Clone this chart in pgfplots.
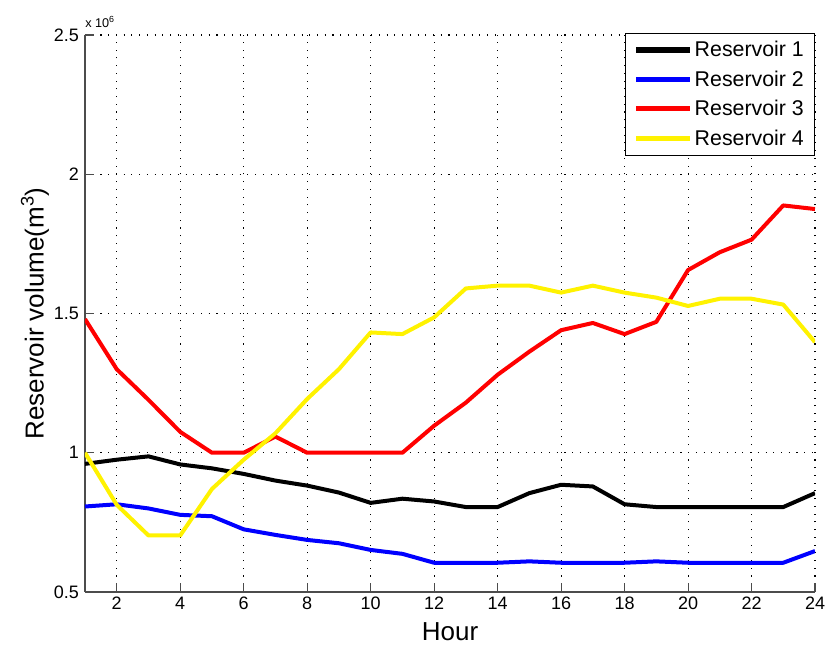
\documentclass[border=0pt]{standalone}
\usepackage{fontspec}
\setmainfont{Liberation Sans}
\usepackage{pgfplots}
\pgfplotsset{compat=1.18}

\pgfplotstableread{
h r1 r2 r3 r4
1 0.960 0.807 1.480 1.000
2 0.975 0.815 1.300 0.813
3 0.987 0.800 1.190 0.703
4 0.958 0.777 1.075 0.703
5 0.944 0.772 1.000 0.870
6 0.924 0.725 1.000 0.975
7 0.900 0.705 1.058 1.070
8 0.882 0.687 1.000 1.193
9 0.857 0.675 1.000 1.300
10 0.820 0.651 1.000 1.432
11 0.835 0.637 1.000 1.426
12 0.825 0.605 1.097 1.486
13 0.805 0.605 1.180 1.590
14 0.805 0.605 1.280 1.600
15 0.855 0.610 1.363 1.600
16 0.885 0.605 1.440 1.575
17 0.879 0.605 1.466 1.600
18 0.815 0.605 1.426 1.575
19 0.805 0.610 1.470 1.557
20 0.805 0.605 1.656 1.527
21 0.805 0.605 1.720 1.553
22 0.805 0.605 1.765 1.553
23 0.805 0.605 1.888 1.532
24 0.855 0.647 1.875 1.397
}\datatable

\begin{document}
\begin{tikzpicture}
\useasboundingbox (-63.75pt,-42pt) rectangle (556.5pt,444pt);
\begin{axis}[
  at={(0,0)}, anchor=south west,
  width=547.5pt, height=417.75pt, scale only axis,
  xmin=1, xmax=24, ymin=0.5, ymax=2.5,
  xtick={2,4,...,24}, ytick={0.5,1,1.5,2,2.5},
  axis lines*=left,
  axis line style={draw=black!70, line width=1pt},
  tick align=inside,
  major tick length=7pt,
  tick style={black!70, line width=0.8pt},
  grid=major,
  major grid style={black, line width=0.8pt, dash pattern=on 0.8pt off 5pt},
  /pgf/number format/assume math mode=true,
  ticklabel style={font=\fontsize{13.5}{16}\selectfont, text=black},
  yticklabel style={xshift=-1pt},
  xlabel={Hour}, ylabel={Reservoir volume(m\textsuperscript{3})},
  every axis x label/.style={at={(axis description cs:0.5,-0.0718)}, anchor=center, font=\fontsize{19.5}{22}\selectfont},
  every axis y label/.style={at={(axis description cs:-0.0685,0.5)}, anchor=center, rotate=90, font=\fontsize{19.5}{22}\selectfont},
  legend style={at={(rel axis cs:1,1.004)}, anchor=north east, draw=black, line width=0.8pt,
    font=\fontsize{16}{19}\selectfont, row sep=5pt, cells={anchor=west},
    inner xsep=6pt, inner ysep=4pt},
  legend image code/.code={\draw[#1, line width=3.8pt] (0pt,0pt) -- (40pt,0pt);},
  every axis plot/.append style={line width=3pt, line join=round},
  clip mode=individual,
]
\addplot[black] table[x=h, y=r1] {\datatable};
\addplot[blue] table[x=h, y=r2] {\datatable};
\addplot[red] table[x=h, y=r3] {\datatable};
\addplot[yellow] table[x=h, y=r4] {\datatable};
\legend{Reservoir 1, Reservoir 2, Reservoir 3, Reservoir 4}
\node[anchor=south west, font=\fontsize{9.5}{10}\selectfont, inner sep=0pt] at (axis description cs:0,1.012) {x 10\textsuperscript{6}};
\end{axis}
\end{tikzpicture}
\end{document}
